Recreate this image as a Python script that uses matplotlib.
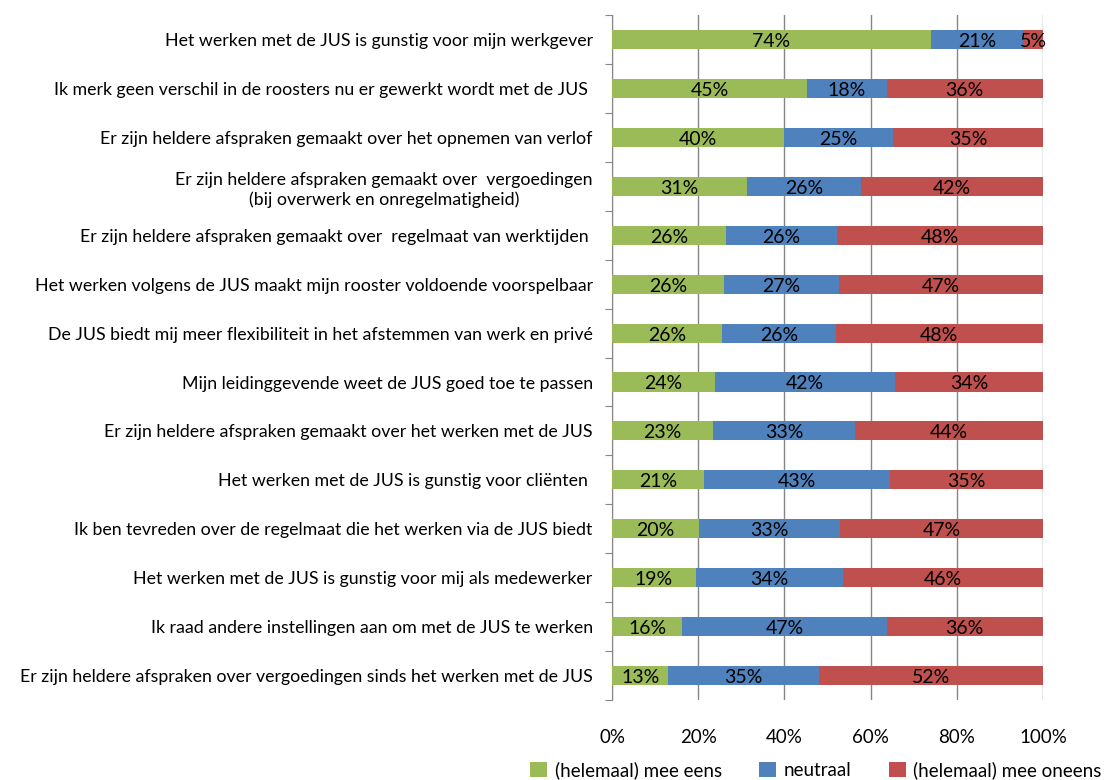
import numpy as np
import matplotlib
matplotlib.use("Agg")
import matplotlib.pyplot as plt

plt.rcParams['font.family'] = ['Lato', 'DejaVu Sans']

# statements, top to bottom
statements = [
    "Het werken met de JUS is gunstig voor mijn werkgever",
    "Ik merk geen verschil in de roosters nu er gewerkt wordt met de JUS ",
    "Er zijn heldere afspraken gemaakt over het opnemen van verlof",
    "Er zijn heldere afspraken gemaakt over  vergoedingen\n(bij overwerk en onregelmatigheid)",
    "Er zijn heldere afspraken gemaakt over  regelmaat van werktijden ",
    "Het werken volgens de JUS maakt mijn rooster voldoende voorspelbaar",
    "De JUS biedt mij meer flexibiliteit in het afstemmen van werk en privé",
    "Mijn leidinggevende weet de JUS goed toe te passen",
    "Er zijn heldere afspraken gemaakt over het werken met de JUS",
    "Het werken met de JUS is gunstig voor cliënten ",
    "Ik ben tevreden over de regelmaat die het werken via de JUS biedt",
    "Het werken met de JUS is gunstig voor mij als medewerker",
    "Ik raad andere instellingen aan om met de JUS te werken",
    "Er zijn heldere afspraken over vergoedingen sinds het werken met de JUS",
]
eens = [74.0, 45.3, 39.9, 31.3, 26.4, 26.0, 25.6, 23.9, 23.4, 21.3, 20.2, 19.4, 16.3, 13.0]
neutraal = [21.4, 18.4, 25.3, 26.4, 25.8, 26.6, 26.3, 41.8, 33.0, 43.3, 32.7, 34.2, 47.4, 35.0]
oneens = [4.6, 36.3, 34.8, 42.3, 47.8, 47.4, 48.1, 34.3, 43.6, 35.4, 47.1, 46.4, 36.3, 52.0]
series_names = ["(helemaal) mee eens", "neutraal", "(helemaal) mee oneens"]
colors = ["#9BBB59", "#4F81BD", "#C0504D"]

fig = plt.figure(figsize=(11.13, 7.8), dpi=100)
ax = fig.add_axes([0.55, 0.1026, 0.387, 0.878])

y = np.arange(len(statements))
left = np.zeros(len(statements))
for vals, name, col in zip([eens, neutraal, oneens], series_names, colors):
    vals = np.array(vals)
    ax.barh(y, vals, left=left, height=0.39, color=col, label=name, zorder=3)
    for yi, l, v in zip(y, left, vals):
        ax.text(l + v / 2, yi + 0.04, f"{round(v)}%", ha="center", va="center",
                fontsize=14, color="black", zorder=4)
    left += vals

ax.set_xlim(0, 100)
ax.set_ylim(len(statements) - 0.5, -0.5)
ax.set_xticks(np.arange(0, 101, 20))
ax.set_xticklabels([f"{t}%" for t in range(0, 101, 20)], fontsize=13.5)
ax.tick_params(axis="x", length=0, pad=21)
ax.xaxis.grid(True, color="#868686", linewidth=1.0, zorder=0)

# category ticks sit between the rows
ax.set_yticks(np.arange(-0.5, len(statements), 1.0))
ax.set_yticklabels([])
ax.set_yticks(y, minor=True)
ax.set_yticklabels(statements, minor=True, fontsize=12.8, linespacing=1.3)
ax.tick_params(axis="y", which="major", length=5, color="#868686")
ax.tick_params(axis="y", which="minor", length=0, pad=14)
for lab in ax.get_yticklabels(minor=True):
    lab.set_multialignment("center")

for s in ["top", "right", "bottom"]:
    ax.spines[s].set_visible(False)
ax.spines["left"].set_color("#868686")

fig.legend(loc="center", bbox_to_anchor=(0.733, 0.013), ncol=3, frameon=False,
           fontsize=13.5, handlelength=0.9, handleheight=0.9, columnspacing=2.0,
           handletextpad=0.4)

fig.savefig("out.png", dpi=100)
